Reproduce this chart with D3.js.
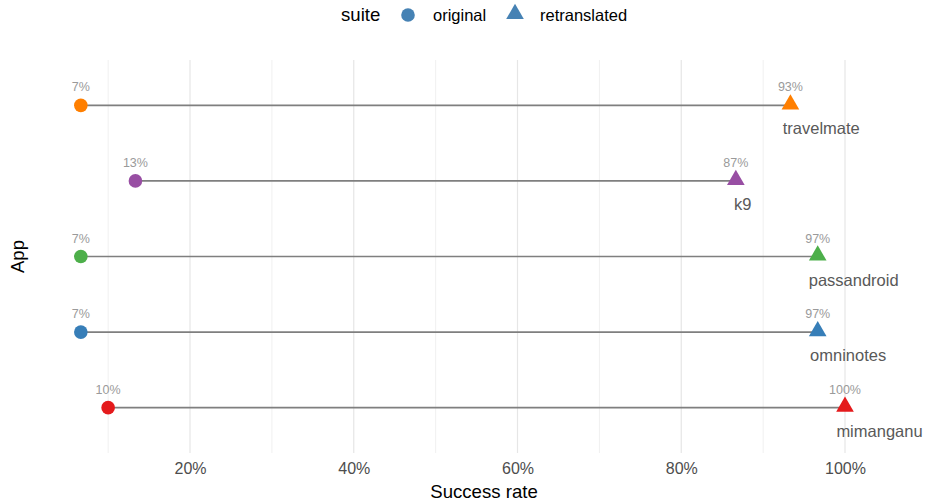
<!DOCTYPE html>
<html>
<head>
<meta charset="utf-8">
<script src="https://cdn.jsdelivr.net/npm/d3@7"></script>
<style>
  body { margin: 0; background: #fff; }
  text { font-family: "Liberation Sans", Arial, sans-serif; }
</style>
</head>
<body>
<svg id="chart" width="926" height="504"></svg>
<script>
// Data (bottom to top)
const apps = ["mimanganu", "omninotes", "passandroid", "k9", "travelmate"];
const original = [3 / 30, 2 / 30, 2 / 30, 4 / 30, 2 / 30];
const retranslated = [30 / 30, 29 / 30, 29 / 30, 26 / 30, 28 / 30];
const colors = ["#E41A1C", "#377EB8", "#4DAF4A", "#984EA3", "#FF7F00"];
const xTicks = [0.2, 0.4, 0.6, 0.8, 1.0];
const xMinor = [0.1, 0.3, 0.5, 0.7, 0.9];

const svg = d3.select("#chart");
const margin = { top: 60, right: 0, bottom: 51, left: 40 };
const width = 926 - margin.left - margin.right;
const height = 504 - margin.top - margin.bottom;

const g = svg.append("g")
    .attr("transform", "translate(" + margin.left + "," + margin.top + ")");

// x scale: 20% at 190px, 100% at 845px on the page
const x = d3.scaleLinear()
    .domain([0.2, 1.0])
    .range([190 - margin.left, 845 - margin.left]);

// y: discrete positions with ggplot-style padding
const y = d3.scalePoint()
    .domain(apps.slice().reverse())
    .range([0, height])
    .padding(0.6);

// Grid
g.selectAll(".minor").data(xMinor).enter().append("line")
    .attr("x1", d => x(d)).attr("x2", d => x(d))
    .attr("y1", 0).attr("y2", height)
    .attr("stroke", "#f0f0f0").attr("stroke-width", 1);
g.selectAll(".major").data(xTicks).enter().append("line")
    .attr("x1", d => x(d)).attr("x2", d => x(d))
    .attr("y1", 0).attr("y2", height)
    .attr("stroke", "#e6e6e6").attr("stroke-width", 1.2);

// X axis
const xAxis = g.append("g")
    .attr("transform", "translate(0," + height + ")")
    .call(d3.axisBottom(x).tickValues(xTicks).tickFormat(d3.format(".0%")).tickSize(0).tickPadding(10));
xAxis.select(".domain").remove();
xAxis.selectAll("text").attr("font-size", 16).attr("fill", "#4d4d4d")
    .style("font-family", "Liberation Sans, Arial, sans-serif");

// Segments
const rows = apps.map((a, i) => ({ app: a, o: original[i], r: retranslated[i], c: colors[i] }));

g.selectAll(".seg").data(rows).enter().append("line")
    .attr("x1", d => x(d.o)).attr("x2", d => x(d.r))
    .attr("y1", d => y(d.app)).attr("y2", d => y(d.app))
    .attr("stroke", "#7f7f7f").attr("stroke-width", 1.6);

// Points
g.selectAll(".orig").data(rows).enter().append("circle")
    .attr("cx", d => x(d.o)).attr("cy", d => y(d.app))
    .attr("r", 6.8).attr("fill", d => d.c);

const tri = d3.symbol().type(d3.symbolTriangle).size(135);
g.selectAll(".retr").data(rows).enter().append("path")
    .attr("d", tri)
    .attr("transform", d => "translate(" + x(d.r) + "," + (y(d.app) - 1) + ")")
    .attr("fill", d => d.c);

// Percent labels
const pct = d3.format(".0%");
g.selectAll(".plo").data(rows).enter().append("text")
    .attr("x", d => x(d.o)).attr("y", d => y(d.app) - 14)
    .attr("text-anchor", "middle").attr("font-size", 12.5).attr("fill", "#9a9a9a")
    .text(d => pct(d.o));
g.selectAll(".plr").data(rows).enter().append("text")
    .attr("x", d => x(d.r)).attr("y", d => y(d.app) - 14)
    .attr("text-anchor", "middle").attr("font-size", 12.5).attr("fill", "#9a9a9a")
    .text(d => pct(d.r));

// App labels (hjust ~0.1)
g.selectAll(".app").data(rows).enter().append("text")
    .attr("y", d => y(d.app) + 29)
    .attr("font-size", 16.5).attr("fill", "#595959")
    .text(d => d.app)
    .attr("x", function(d) { return x(d.r) - 0.1 * this.getComputedTextLength(); });

// Axis titles
svg.append("text")
    .attr("x", 484).attr("y", 498)
    .attr("text-anchor", "middle").attr("font-size", 18.6).attr("fill", "#000")
    .text("Success rate");
svg.append("text")
    .attr("transform", "translate(24," + (margin.top + height / 2) + ") rotate(-90)")
    .attr("text-anchor", "middle").attr("font-size", 18.6).attr("fill", "#000")
    .text("App");

// Legend
const lg = svg.append("g");
lg.append("text").attr("x", 341).attr("y", 21).attr("font-size", 18.6).attr("fill", "#000").text("suite");
lg.append("circle").attr("cx", 408).attr("cy", 15).attr("r", 6.8).attr("fill", "#4682B4");
lg.append("text").attr("x", 433).attr("y", 21).attr("font-size", 16.5).attr("fill", "#000").text("original");
lg.append("path").attr("d", tri).attr("transform", "translate(515,14)").attr("fill", "#4682B4");
lg.append("text").attr("x", 540).attr("y", 21).attr("font-size", 16.5).attr("fill", "#000").text("retranslated");
</script>
</body>
</html>
